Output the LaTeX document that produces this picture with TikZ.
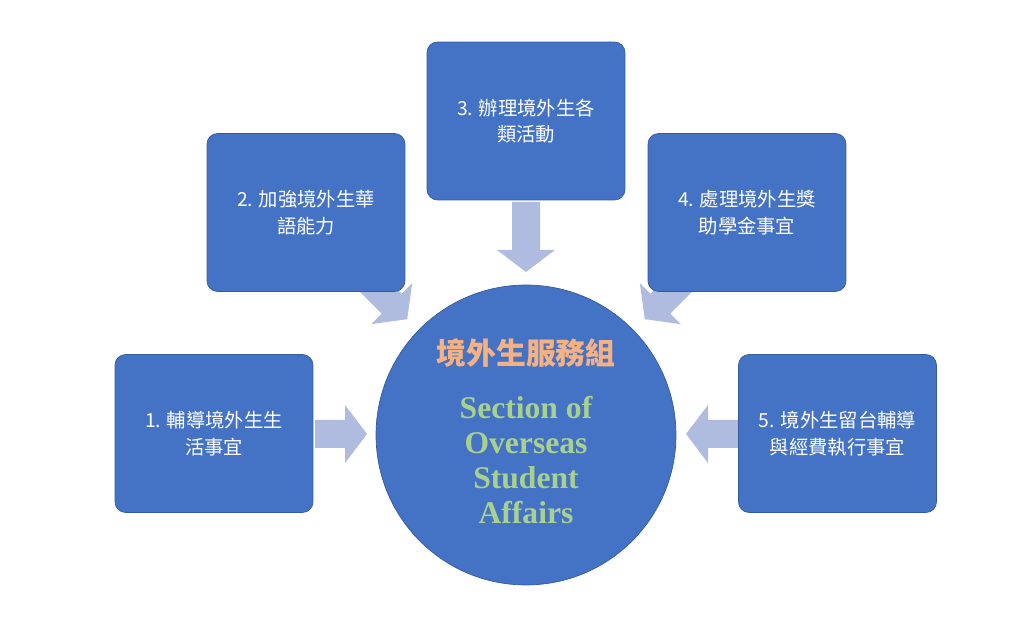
\documentclass[tikz,border=0pt]{standalone}
\usepackage{fontspec}
\setmainfont{Liberation Serif}
\newfontfamily\cjk{Noto Sans CJK TC}
\usetikzlibrary{positioning}
\definecolor{boxBlue}{HTML}{4472C4}
\definecolor{arrowBlue}{HTML}{B0BCDF}
\definecolor{titlePeach}{HTML}{F4B183}
\definecolor{engGreen}{HTML}{A9D18E}
\tikzset{
  taskbox/.style={rectangle, rounded corners=6pt, fill=boxBlue, draw=boxBlue!80!black, thin,
    minimum width=3.96cm, minimum height=3.16cm, text=white, align=center,
    font=\cjk\fontsize{11}{15}\selectfont},
  hub/.style={circle, fill=boxBlue, draw=boxBlue!80!black, thin, minimum size=6cm}
}
\newcommand\blockarrow[3]{% center, angle, length
  \fill[arrowBlue, shift={#1}, rotate=#2]
    (-#3/2,-14) -- (#3/2-22,-14) -- (#3/2-22,-29) -- (#3/2,0)
    -- (#3/2-22,29) -- (#3/2-22,14) -- (-#3/2,14) -- cycle;}
\begin{document}
\begin{tikzpicture}[x=0.02cm,y=0.02cm]
\useasboundingbox (0,0) rectangle (1036,625);
% arrows behind the boxes
\blockarrow{(341,191)}{0}{52}
\blockarrow{(712,191)}{180}{52}
\blockarrow{(526,388)}{-90}{70}
\blockarrow{(386,327)}{-45}{60}
\blockarrow{(666,327)}{-135}{60}
% boxes
\node[taskbox] (t1) at (214,191.5) {1. 輔導境外生生\\活事宜};
\node[taskbox] (t2) at (306,412.5) {2. 加強境外生華\\語能力};
\node[taskbox] (t3) at (526,504) {3. 辦理境外生各\\類活動};
\node[taskbox] (t4) at (747,412.5) {4. 處理境外生獎\\助學金事宜};
\node[taskbox] (t5) at (837.5,191.5) {5. 境外生留台輔導\\與經費執行事宜};
% hub
\node[hub] (hub) at (526,190) {};
\node[text=titlePeach, font=\cjk\bfseries\fontsize{17}{20}\selectfont] (title) at (526,272) {境外生服務組};
\node[text=engGreen, align=center, font=\bfseries\fontsize{18}{19.8}\selectfont] (eng) at (526,165)
  {Section of\\Overseas\\Student\\Affairs};
\end{tikzpicture}
\end{document}
